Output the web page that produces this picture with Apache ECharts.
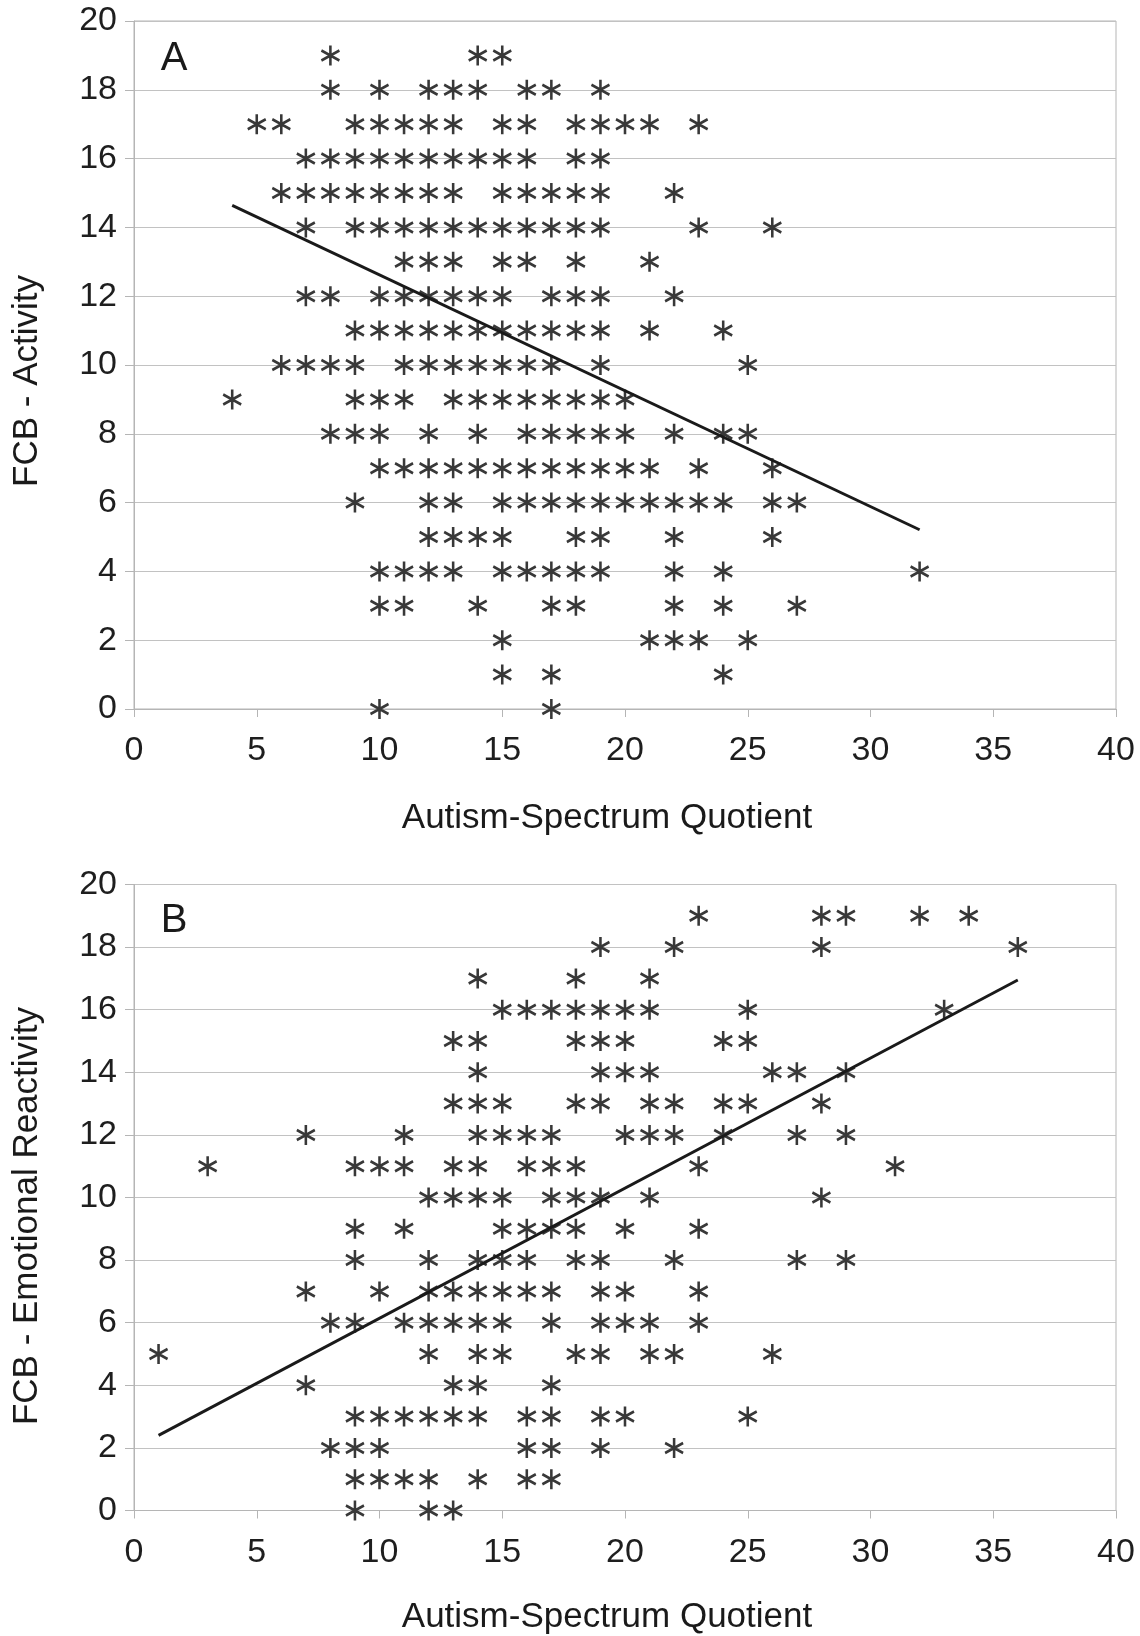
<!DOCTYPE html>
<html>
<head>
<meta charset="utf-8">
<script src="https://cdn.jsdelivr.net/npm/echarts@6/dist/echarts.min.js"></script>
<style>html,body{margin:0;padding:0;background:#fff;}#c{width:1140px;height:1636px;}</style>
</head>
<body>
<div id="c"></div>
<script>
// Panel A: FCB - Activity. Each entry: x values (AQ) of the points at y = index
const activityRows = [
  [10, 17],
  [15, 17, 24],
  [15, 21, 22, 23, 25],
  [10, 11, 14, 17, 18, 22, 24, 27],
  [10, 11, 12, 13, 15, 16, 17, 18, 19, 22, 24, 32],
  [12, 13, 14, 15, 18, 19, 22, 26],
  [9, 12, 13, 15, 16, 17, 18, 19, 20, 21, 22, 23, 24, 26, 27],
  [10, 11, 12, 13, 14, 15, 16, 17, 18, 19, 20, 21, 23, 26],
  [8, 9, 10, 12, 14, 16, 17, 18, 19, 20, 22, 24, 25],
  [4, 9, 10, 11, 13, 14, 15, 16, 17, 18, 19, 20],
  [6, 7, 8, 9, 11, 12, 13, 14, 15, 16, 17, 19, 25],
  [9, 10, 11, 12, 13, 14, 15, 16, 17, 18, 19, 21, 24],
  [7, 8, 10, 11, 12, 13, 14, 15, 17, 18, 19, 22],
  [11, 12, 13, 15, 16, 18, 21],
  [7, 9, 10, 11, 12, 13, 14, 15, 16, 17, 18, 19, 23, 26],
  [6, 7, 8, 9, 10, 11, 12, 13, 15, 16, 17, 18, 19, 22],
  [7, 8, 9, 10, 11, 12, 13, 14, 15, 16, 18, 19],
  [5, 6, 9, 10, 11, 12, 13, 15, 16, 18, 19, 20, 21, 23],
  [8, 10, 12, 13, 14, 16, 17, 19],
  [8, 14, 15],
  []
];
// Panel B: FCB - Emotional Reactivity. Each entry: x values at y = index
const emotionalRows = [
  [9, 12, 13],
  [9, 10, 11, 12, 14, 16, 17],
  [8, 9, 10, 16, 17, 19, 22],
  [9, 10, 11, 12, 13, 14, 16, 17, 19, 20, 25],
  [7, 13, 14, 17],
  [1, 12, 14, 15, 18, 19, 21, 22, 26],
  [8, 9, 11, 12, 13, 14, 15, 17, 19, 20, 21, 23],
  [7, 10, 12, 13, 14, 15, 16, 17, 19, 20, 23],
  [9, 12, 14, 15, 16, 18, 19, 22, 27, 29],
  [9, 11, 15, 16, 17, 18, 20, 23],
  [12, 13, 14, 15, 17, 18, 19, 21, 28],
  [3, 9, 10, 11, 13, 14, 16, 17, 18, 23, 31],
  [7, 11, 14, 15, 16, 17, 20, 21, 22, 24, 27, 29],
  [13, 14, 15, 18, 19, 21, 22, 24, 25, 28],
  [14, 19, 20, 21, 26, 27, 29],
  [13, 14, 18, 19, 20, 24, 25],
  [15, 16, 17, 18, 19, 20, 21, 25, 33],
  [14, 18, 21],
  [19, 22, 28, 36],
  [23, 28, 29, 32, 34],
  []
];
// Linear trend lines (end points)
const activityTrend = [[4, 14.64], [32, 5.21]];
const emotionalTrend = [[1, 2.4], [36, 16.95]];

const xTicks = { min: 0, max: 40, interval: 5 };
const yTicks = { min: 0, max: 20, interval: 2 };
const xTitle = 'Autism-Spectrum Quotient';
const yTitleA = 'FCB - Activity';
const yTitleB = 'FCB - Emotional Reactivity';

function toPoints(rows) {
  const pts = [];
  rows.forEach((xs, y) => xs.forEach(x => pts.push([x, y])));
  return pts;
}

const FONT = 'Liberation Sans';
const GRAY = '#b5b5b5';
const STAR = 'path://M0,0 L0,20 M-8.66,5 L8.66,15 M-8.66,15 L8.66,5';

function xAxis(gi) {
  return {
    gridIndex: gi, type: 'value', min: xTicks.min, max: xTicks.max, interval: xTicks.interval,
    axisLine: { show: true, lineStyle: { color: GRAY, width: 1 } },
    axisTick: { show: true, length: 8, lineStyle: { color: GRAY } },
    splitLine: { show: false },
    axisLabel: { color: '#1e1e1e', fontFamily: FONT, fontSize: 34, margin: 25 }
  };
}
function yAxis(gi) {
  return {
    gridIndex: gi, type: 'value', min: yTicks.min, max: yTicks.max, interval: yTicks.interval,
    axisLine: { show: true, lineStyle: { color: GRAY, width: 1 } },
    axisTick: { show: true, length: 9, lineStyle: { color: GRAY } },
    splitLine: { show: true, lineStyle: { color: '#c2c2c2', width: 1.2 } },
    axisLabel: { color: '#1e1e1e', fontFamily: FONT, fontSize: 34, margin: 17 }
  };
}
function scatter(i, rows) {
  return {
    type: 'scatter', xAxisIndex: i, yAxisIndex: i, data: toPoints(rows),
    symbol: STAR, symbolSize: [18, 20], symbolKeepAspect: false,
    itemStyle: { color: 'rgba(0,0,0,0)', borderColor: '#383838', borderWidth: 2.7, opacity: 1 },
    emphasis: { disabled: true }, silent: true, z: 2
  };
}
function trend(i, data) {
  return {
    type: 'line', xAxisIndex: i, yAxisIndex: i, data: data, showSymbol: false, symbol: 'none',
    lineStyle: { color: '#1a1a1a', width: 2.9 }, silent: true, z: 3, animation: false
  };
}
function txt(x, y, text, size, rot) {
  return {
    type: 'text', x: x, y: y, rotation: rot || 0,
    style: { text: text, fontFamily: FONT, fontSize: size, fill: '#1a1a1a', align: 'center', verticalAlign: 'middle' }
  };
}

const chart = echarts.init(document.getElementById('c'), null, { renderer: 'canvas' });
chart.setOption({
  animation: false,
  backgroundColor: '#fff',
  grid: [
    { left: 134, top: 21, width: 982, height: 688, show: true, borderColor: GRAY, borderWidth: 1, backgroundColor: 'transparent' },
    { left: 134, top: 884.5, width: 982, height: 626, show: true, borderColor: GRAY, borderWidth: 1, backgroundColor: 'transparent' }
  ],
  xAxis: [xAxis(0), xAxis(1)],
  yAxis: [yAxis(0), yAxis(1)],
  series: [scatter(0, activityRows), trend(0, activityTrend), scatter(1, emotionalRows), trend(1, emotionalTrend)],
  graphic: [
    txt(174, 59, 'A', 40),
    txt(174, 921, 'B', 40),
    txt(607, 818, xTitle, 35),
    txt(607, 1617, xTitle, 35),
    txt(27, 381, yTitleA, 35, Math.PI / 2),
    txt(27, 1216, yTitleB, 35, Math.PI / 2)
  ]
});
</script>
</body>
</html>
